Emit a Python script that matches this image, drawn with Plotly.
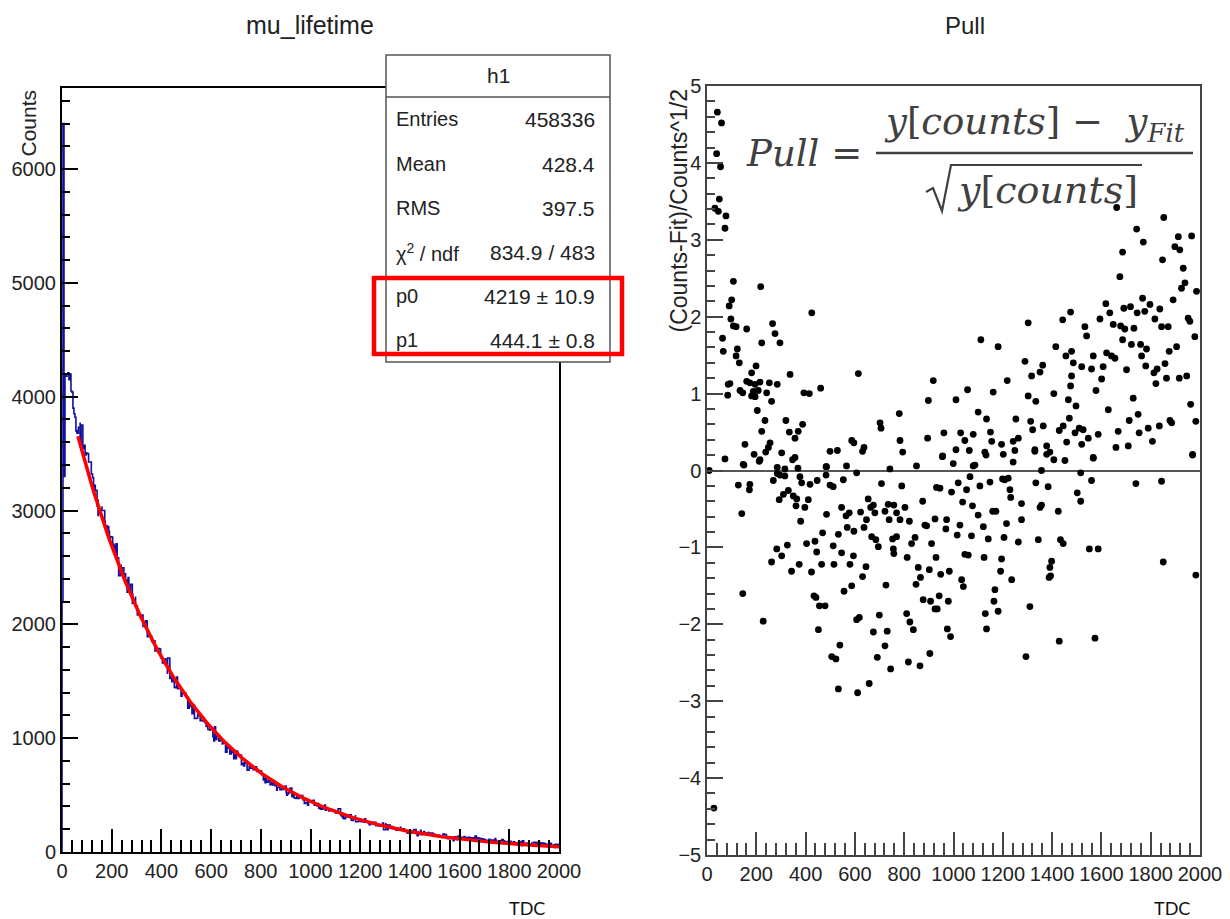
import numpy as np
import plotly.graph_objects as go

W, H = 1230, 919


def px(x):
    return x / W


def py(y):
    return 1 - y / H


# ---------------- data ----------------
p0, p1 = 4219.0, 444.1          # fit parameters  f(x) = p0 * exp(-x / p1)
fit_range = [64, 2000]

# first histogram bins (before the fit range)
head_tdc = [0, 4, 8, 12, 16, 20, 24, 28, 32, 36, 40, 44, 48, 52, 56, 60]
head_counts = [2200, 6400, 3300, 4200, 4180, 4200, 4210, 4150, 4200, 4050, 4040, 3900, 3850, 3820, 3700, 3680]

# pull points (TDC, pull)
pull_tdc = [
    42, 59, 39, 55, 50, 32, 46, 77, 73,
    107, 218, 100, 90, 97, 107, 118, 161, 63, 266, 276, 296, 222, 66, 123, 118, 131, 199, 181, 337,
    93, 86, 161, 174, 195, 215, 253, 285, 134, 145, 188, 208, 242, 84, 181, 195, 262, 393, 415, 461,
    425, 614, 204, 235, 320, 222, 334, 370, 357, 388, 256, 154, 73, 147, 191, 215, 238, 249, 303, 347,
    357, 499, 529, 587, 596, 631, 637, 702, 706, 780, 783, 794, 898, 918, 895, 956, 961, 1010, 1010,
    1029, 1046, 1057, 1064, 1080, 1100, 1111, 1134, 1127, 1155, 1150, 1161, 1181, 1195, 1202, 1218,
    1242, 1249, 1253, 1263, 1303, 1290, 1303, 1313, 1317, 1321, 1334, 1330, 1351, 1362, 1364, 1378,
    1391, 1407, 1415, 1429, 1443, 1445, 1456, 1459, 1470, 1475, 1479, 1486, 1475, 1466, 1479, 1493,
    1497, 1510, 1520, 1533, 1540, 1520, 1526, 1547, 1567, 1567, 1578, 1560, 1587, 1594, 1601, 1607,
    1618, 1621, 1628, 1634, 1641, 1648, 1655, 1659, 1662, 1668, 1675, 1678, 1686, 1691, 1695, 1686,
    1702, 1709, 1713, 1718, 1722, 1729, 1732, 1743, 1745, 1749, 1753, 1759, 1763, 1770, 1767, 1776,
    1780, 1783, 1790, 1797, 1807, 1813, 1821, 1817, 1826, 1835, 1837, 1844, 1848, 1853, 1858, 1864,
    1871, 1875, 1878, 1885, 1891, 1898, 1905, 1912, 1916, 1918, 1925, 1932, 1939, 1946, 1952, 1959,
    1962, 1966, 1970, 1979, 1986, 1983,
    285, 316, 369, 485, 566, 742, 850, 1080, 1132, 955, 999, 1087, 1242, 1330, 1378, 1407, 1452, 1567,
    1970, 9, 150, 212,
    127, 174, 172, 141, 145, 228, 28, 269, 285, 296, 316, 293, 310, 330, 350, 364, 361, 377, 384, 418,
    447, 483, 483, 499, 512, 397, 411, 380, 283, 303, 326, 262, 343, 374, 404, 438, 424, 445, 465, 469,
    485, 512, 515, 533, 546, 553, 564, 577, 569, 546, 580, 594, 596, 607, 623, 637, 654, 664, 675, 681,
    647, 708, 722, 735, 739, 758, 769, 783, 790, 803, 821, 434, 442, 456, 479, 452, 506, 523, 539, 533,
    556, 587, 631, 645, 607, 618, 611, 658, 675, 691, 699, 668, 685, 695, 726, 731, 722, 745, 753, 756,
    758, 769, 812, 810, 823, 837, 817, 830, 844, 848, 857, 866, 864, 875, 884, 891, 877, 902, 907, 904,
    911, 925, 929, 925, 934, 942, 931, 945, 948, 969, 972, 975, 979, 983, 988, 992, 1019, 1015, 1026,
    1033, 1037, 1040, 1046, 1053, 1060, 1073, 1077, 1067, 1100, 1107, 1121, 1124, 1129, 1134, 1141,
    1148, 1159, 1168, 1172, 1164, 1181, 1191, 1195, 1199, 1205, 1208, 1215, 1222, 1229, 1236, 1232,
    1263, 1276, 1276, 1294, 1310, 1334, 1344, 1351, 1357, 1357, 1384, 1388, 1394, 1391, 1398, 1425,
    1434, 1445, 1429, 1502, 1516, 1516, 1551, 1587, 1560, 1574, 1740, 1844, 1851, 1983,
]
pull_val = [
    4.66, 4.52, 4.12, 3.95, 3.53, 3.41, 3.37, 3.31, 3.15,
    2.46, 2.39, 2.22, 2.14, 1.97, 1.88, 1.87, 1.84, 1.72, 1.91, 1.78, 1.66, 1.66, 1.55, 1.58, 1.49, 1.40, 1.36, 1.27, 1.25,
    1.13, 1.12, 1.16, 1.14, 1.12, 1.15, 1.14, 1.12, 1.04, 1.01, 1.03, 1.04, 1.01, 0.98, 0.97, 0.96, 0.90, 1.01, 1.00, 1.07,
    2.05, 1.26, 0.78, 0.65, 0.65, 0.51, 0.50, 0.51, 0.42, 0.60, 0.36, 0.34, 0.15, 0.08, 0.21, 0.14, 0.24, 0.30, 0.23, 0.14,
    0.17, 0.25, 0.26, 0.39, 0.36, 0.25, 0.30, 0.62, 0.55, 0.74, 0.39, 0.24, 0.91, 1.17, 0.42, 0.19, 0.49, 0.27, 0.92,
    0.49, 0.39, 1.05, 0.26, 0.47, 0.76, 1.70, 0.67, 0.24, 0.38, 0.50, 1.02, 1.61, 0.34, 0.21, 1.17,
    0.38, 0.26, 0.67, 0.42, 1.92, 1.42, 0.97, 0.64, 1.23, 0.53, 0.90, 0.27, 1.28, 1.37, 0.58, 0.32,
    0.24, 1.00, 1.61, 0.52, 1.96, 0.58, 1.49, 0.37, 0.68, 2.06, 1.55, 1.40, 1.10, 0.92, 1.23, 0.49,
    0.84, 0.55, 1.35, 1.87, 1.75, 0.34, 0.53, 0.42, 1.49, 0.17, 1.04, 1.32, 0.47, 1.97, 1.19, 1.35,
    2.17, 1.53, 0.79, 2.05, 1.49, 1.90, 1.46, 0.30, 3.42, 0.51, 2.52, 1.88, 2.84, 2.11, 1.84, 1.70,
    1.31, 0.32, 0.65, 2.13, 1.64, 0.94, 1.85, 3.14, 2.05, 0.73, 0.49, 1.64, 1.49, 2.97, 2.24, 2.07,
    1.36, 1.58, 0.55, 2.16, 0.38, 1.27, 1.13, 1.97, 1.32, 0.58, 2.10, 1.87, 2.74, 3.29, 1.39, 1.20,
    1.87, 1.55, 0.65, 0.62, 2.22, 2.91, 1.61, 3.04, 1.20, 2.87, 2.37, 2.63, 2.44, 1.23, 1.98, 1.94,
    0.86, 3.05, 0.21, 1.74, 2.33, 0.64,
    0.04, 0.02, 0.03, 0.05, 0.06, 0.02, 0.06, 0.06, 0.20, 0.18, 0.09, 0.07, 0.11, 0.25, 0.21, 0.14, 0.13, 0.16,
    0.20, 0.00, 0.07, 0.12,
    -0.19, -0.18, -0.25, -0.56, -1.60, -1.96, -4.39, -0.13, -0.04, -0.06, -0.07, -0.38, -0.31, -0.26, -0.33, -0.37, -0.46, -0.08, -0.16, -0.18,
    -0.13, -0.06, 0.05, -0.19, -0.21, -0.48, -0.38, -0.66, -1.02, -1.11, -0.97, -1.19, -1.31, -1.22, -0.95, -0.92, -1.32, -1.06, -1.22, -0.81,
    -0.57, -0.98, -1.22, -0.83, -0.48, -0.12, -0.59, -0.55, -0.74, -1.07, -1.22, -1.11, -0.79, -0.03, -0.54, -0.74, -0.37, -0.48, -0.45, -0.55,
    -0.64, -0.17, -0.53, -0.44, -0.64, -0.45, -0.55, -0.64, -0.20, -0.48, -0.66, -1.63, -1.65, -1.76, -1.76, -2.07, -2.42, -2.45, -2.27, -2.84,
    -1.57, -1.50, -1.38, -1.25, -1.94, -1.91, -2.89, -2.77, -2.10, -2.43, -1.88, -0.86, -0.90, -0.99, -1.49, -2.09, -2.28, -2.58, -0.89, -1.02,
    -1.08, -0.86, -1.13, -1.86, -1.97, -2.07, -2.49, -0.95, -0.87, -1.48, -1.26, -1.39, -2.54, -0.40, -0.71, -0.72, -1.68, -1.29, -1.70, -2.38,
    -0.95, -0.63, -1.13, -1.80, -1.80, -1.63, -0.22, -0.23, -1.35, -0.76, -0.64, -2.06, -1.70, -1.31, -2.16, -0.28, -0.16, -0.84, -0.71,
    -1.42, -0.41, -1.51, -1.09, -0.25, -1.10, -0.85, -0.46, -0.08, -0.58, -0.20, -0.73, -1.13, -1.86, -2.06, -0.89,
    -0.15, -0.53, -1.55, -0.53, -1.70, -1.83, -1.31, -1.15, -0.11, -0.87, -0.12, -0.69, -0.10, -0.25, -1.42, -0.35,
    -0.93, -0.43, -0.64, -2.42, -1.77, -0.16, -0.90, -0.48, -0.45, 0.00, -0.21, -1.39, -1.37, -1.26, -1.18, -0.53,
    -0.90, -0.95, -2.22, -0.29, -0.40, -0.03, -1.02, -1.02, -0.13, -2.18, -0.17, -0.14, -1.19, -1.36,
]

stats_title = "h1"
stats_labels = ["Entries", "Mean", "RMS", "χ<sup>2</sup> / ndf", "p0", "p1"]
stats_values = ["458336", "428.4", "397.5", "834.9 / 483", "4219 ± 10.9", "444.1 ± 0.8"]

x_ticks = list(range(0, 2001, 200))
left_y_ticks = list(range(0, 6001, 1000))
right_y_ticks = list(range(-5, 6))

# ---------------- derived ----------------
pt = np.array(pull_tdc, dtype=float)
pv = np.array(pull_val, dtype=float)
order = np.argsort(pt, kind="stable")
sel = order[pt[order] >= fit_range[0]]
hx = pt[sel]
hp = pv[sel]
hf = p0 * np.exp(-hx / p1)
hc = ((hp + np.sqrt(hp ** 2 + 4 * hf)) / 2) ** 2   # counts such that (c - f)/sqrt(c) = pull
hist_x = list(head_tdc) + list(hx) + [2000]
hist_y = list(head_counts) + list(hc) + [hc[-1]]

fit_x = np.linspace(fit_range[0], fit_range[1], 400)
fit_y = p0 * np.exp(-fit_x / p1)

# ---------------- figure ----------------
fig = go.Figure()
fig.add_trace(go.Scatter(x=[0, 0] + hist_x, y=[0, 0] + hist_y, mode="lines",
                         line=dict(color="#1010a0", width=1.6, shape="hv"),
                         xaxis="x", yaxis="y", hoverinfo="skip"))
fig.add_trace(go.Scatter(x=fit_x, y=fit_y, mode="lines", line=dict(color="#ff0000", width=3.5),
                         xaxis="x", yaxis="y"))
fig.add_trace(go.Scatter(x=pull_tdc, y=pull_val, mode="markers", marker=dict(color="black", size=6.8),
                         xaxis="x2", yaxis="y2"))

sans = "Liberation Sans, Arial, sans-serif"
tickfont = dict(family=sans, size=20, color="#222")


def xax(domain, lc, lw):
    return dict(domain=domain, range=[0, 2000], tickvals=x_ticks, ticks="inside", ticklen=23, tickwidth=1.5,
                tickcolor=lc, minor=dict(dtick=40, ticks="inside", ticklen=12, tickwidth=1.5, tickcolor=lc),
                showline=True, mirror=True, linecolor=lc, linewidth=lw, showgrid=False, zeroline=False,
                tickfont=tickfont, fixedrange=True, automargin=False)


fig.update_layout(
    template=None,
    width=W, height=H, autosize=False, margin=dict(l=0, r=0, t=0, b=0, pad=0, autoexpand=False),
    paper_bgcolor="white", plot_bgcolor="white", showlegend=False,
    xaxis=dict(**xax([px(62), px(559)], "black", 2), anchor="y"),
    yaxis=dict(domain=[py(852), py(88)], range=[0, 6712], tickvals=left_y_ticks, ticks="inside", ticklen=16,
               tickwidth=1.5, tickcolor="black",
               minor=dict(dtick=200, ticks="inside", ticklen=8, tickwidth=1.5, tickcolor="black"),
               showline=True, mirror=True, linecolor="black", linewidth=2, showgrid=False, zeroline=False,
               tickfont=tickfont, anchor="x", fixedrange=True, automargin=False),
    xaxis2=dict(**xax([px(707), px(1200)], "#444", 1.5), anchor="y2"),
    yaxis2=dict(domain=[py(855), py(86)], range=[-5, 5], tickvals=right_y_ticks, ticks="inside", ticklen=16,
                tickwidth=1.5, tickcolor="#444",
                minor=dict(dtick=0.2, ticks="inside", ticklen=8, tickwidth=1.5, tickcolor="#444"),
                showline=True, mirror=True, linecolor="#444", linewidth=1.5, showgrid=False,
                zeroline=True, zerolinecolor="#555", zerolinewidth=1.5,
                tickfont=tickfont, anchor="x2", fixedrange=True, automargin=False),
)

shapes = []
# stats box
shapes.append(dict(type="rect", xref="paper", yref="paper", x0=px(386), x1=px(610), y0=py(55), y1=py(362),
                   fillcolor="white", line=dict(color="#555", width=1.5), layer="above"))
shapes.append(dict(type="line", xref="paper", yref="paper", x0=px(386), x1=px(610), y0=py(97), y1=py(97),
                   line=dict(color="#555", width=1.5), layer="above"))
shapes.append(dict(type="rect", xref="paper", yref="paper", x0=px(374), x1=px(622), y0=py(278), y1=py(354),
                   line=dict(color="#ff0000", width=4.5), layer="above"))
# formula fraction bar and radical sign
shapes.append(dict(type="line", xref="paper", yref="paper", x0=px(876), x1=px(1193), y0=py(153), y1=py(153),
                   line=dict(color="#404040", width=2.5), layer="above"))
rad = [(926, 192), (933, 188), (942, 211), (951, 165), (1142, 165)]
path = "M " + " L ".join(f"{px(a):.5f},{py(b):.5f}" for a, b in rad)
shapes.append(dict(type="path", xref="paper", yref="paper", path=path,
                   line=dict(color="#404040", width=2.2), layer="above"))
fig.update_layout(shapes=shapes)

ann = []
ann.append(dict(text="mu_lifetime", x=px(310), y=py(25), xref="paper", yref="paper", showarrow=False,
                font=dict(family=sans, size=25, color="#222"), xanchor="center", yanchor="middle"))
ann.append(dict(text="Pull", x=px(965), y=py(25), xref="paper", yref="paper", showarrow=False,
                font=dict(family=sans, size=24, color="#222"), xanchor="center", yanchor="middle"))
ann.append(dict(text="Counts", x=px(28), y=py(88), xref="paper", yref="paper", showarrow=False, textangle=-90,
                font=dict(family=sans, size=21, color="#222"), xanchor="center", yanchor="top"))
ann.append(dict(text="(Counts-Fit)/Counts^1/2", x=px(678), y=py(88), xref="paper", yref="paper", showarrow=False,
                textangle=-90, font=dict(family=sans, size=23, color="#222"), xanchor="center", yanchor="top"))
for xx in (527, 1172):
    ann.append(dict(text="TDC", x=px(xx), y=py(908), xref="paper", yref="paper", showarrow=False,
                    font=dict(family="Lato, Open Sans, sans-serif", size=18, color="#111"),
                    xanchor="center", yanchor="middle"))
# stats box text
ann.append(dict(text=stats_title, x=px(498), y=py(76), xref="paper", yref="paper", showarrow=False,
                font=dict(family=sans, size=21, color="#222"), xanchor="center", yanchor="middle"))
row_y = [119, 164, 208, 252, 296, 340]
for lab, val, ry in zip(stats_labels, stats_values, row_y):
    ann.append(dict(text=lab, x=px(394), y=py(ry), xref="paper", yref="paper", showarrow=False,
                    font=dict(family=sans, size=20, color="#222"), xanchor="left", yanchor="middle"))
    ann.append(dict(text=val, x=px(597), y=py(ry), xref="paper", yref="paper", showarrow=False,
                    font=dict(family=sans, size=21, color="#222"), xanchor="right", yanchor="middle"))
# formula
serif = "DejaVu Serif, Liberation Serif, serif"
ann.append(dict(text="<i>Pull</i> =", x=px(744), y=py(153), xref="paper", yref="paper", showarrow=False,
                font=dict(family=serif, size=37, color="#404040"), xanchor="left", yanchor="middle"))
ann.append(dict(text="<i>y</i>[<i>counts</i>] −  <i>y<sub>Fit</sub></i>", x=px(1034), y=py(124), xref="paper",
                yref="paper", showarrow=False, font=dict(family=serif, size=37, color="#404040"),
                xanchor="center", yanchor="middle"))
ann.append(dict(text="<i>y</i>[<i>counts</i>]", x=px(1047), y=py(190), xref="paper", yref="paper", showarrow=False,
                font=dict(family=serif, size=38, color="#404040"), xanchor="center", yanchor="middle"))
fig.update_layout(annotations=ann)

fig.write_html("out.html", config={"displayModeBar": False},
               post_script="document.body.style.margin='0px';document.body.style.padding='0px';")
